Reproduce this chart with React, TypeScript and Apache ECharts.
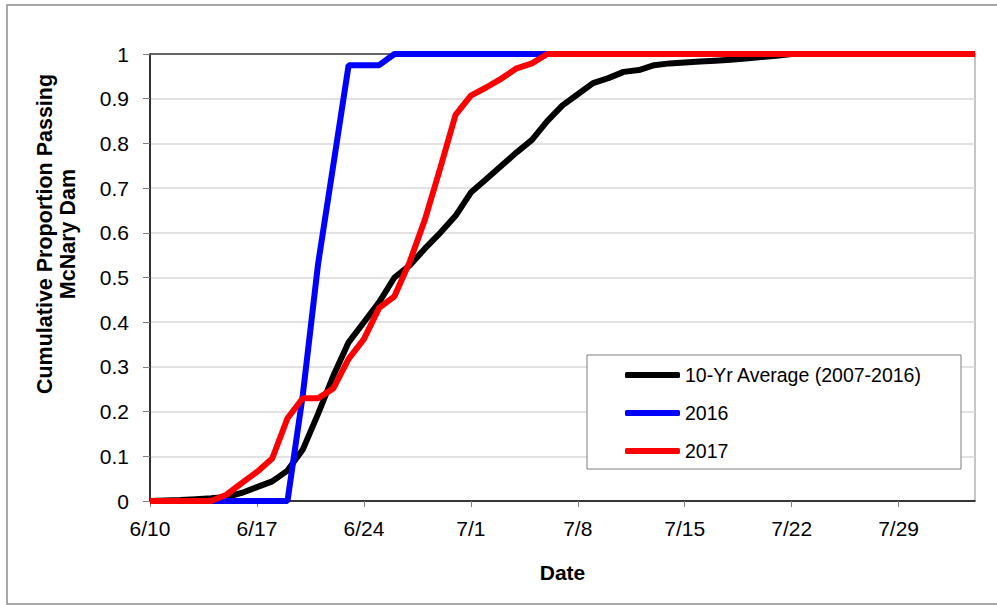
import React, { useEffect, useRef } from "react";
import * as echarts from "echarts";

// Day labels: 6/10 through 8/3 (one per day)
const startMonth = 6;
const startDay = 10;
const dayCount = 55;
const monthLengths: Record<number, number> = { 6: 30, 7: 31, 8: 31 };
function buildDates(): string[] {
  const out: string[] = [];
  let m = startMonth;
  let d = startDay;
  for (let i = 0; i < dayCount; i++) {
    out.push(`${m}/${d}`);
    d++;
    if (d > monthLengths[m]) {
      d = 1;
      m++;
    }
  }
  return out;
}
const dates = buildDates();

const avgLabel = "10-Yr Average (2007-2016)";
const label2016 = "2016";
const label2017 = "2017";
const yTitle = "Cumulative Proportion Passing\nMcNary Dam";
const xTitle = "Date";

const avg10yr = [
  0, 0.001, 0.002, 0.004, 0.006, 0.009, 0.018, 0.031, 0.044, 0.068,
  0.115, 0.195, 0.28, 0.355, 0.4, 0.445, 0.5, 0.527, 0.565, 0.6,
  0.638, 0.69, 0.72, 0.75, 0.78, 0.808, 0.85, 0.885, 0.91, 0.935,
  0.946, 0.96, 0.964, 0.975, 0.979, 0.981, 0.983, 0.985, 0.987, 0.99,
  0.993, 0.996, 1, 1, 1, 1, 1, 1, 1, 1,
  1, 1, 1, 1, 1,
];

const y2016 = [
  0, 0, 0, 0, 0, 0, 0, 0, 0, 0,
  0.237, 0.53, 0.752, 0.975, 0.975, 0.975, 1, 1, 1, 1,
  1, 1, 1, 1, 1, 1, 1, 1, 1, 1,
  1, 1, 1, 1, 1, 1, 1, 1, 1, 1,
  1, 1, 1, 1, 1, 1, 1, 1, 1, 1,
  1, 1, 1, 1, 1,
];

const y2017 = [
  0, 0, 0, 0, 0, 0.014, 0.04, 0.065, 0.095, 0.185,
  0.23, 0.23, 0.252, 0.318, 0.362, 0.432, 0.458, 0.535, 0.63, 0.745,
  0.864, 0.907, 0.925, 0.945, 0.968, 0.979, 1, 1, 1, 1,
  1, 1, 1, 1, 1, 1, 1, 1, 1, 1,
  1, 1, 1, 1, 1, 1, 1, 1, 1, 1,
  1, 1, 1, 1, 1,
];

const FONT = "'Liberation Sans', Arial, sans-serif";

export default function App() {
  const ref = useRef<HTMLDivElement>(null);
  useEffect(() => {
    if (!ref.current) return;
    const chart = echarts.init(ref.current, undefined, { renderer: "svg" });
    const lineSeries = (name: string, data: number[], color: string) => ({
      name,
      type: "line",
      data,
      showSymbol: false,
      symbol: "none",
      color,
      lineStyle: { color, width: 6 },
      z: 2,
    });
    chart.setOption({
      animation: false,
      backgroundColor: "#ffffff",
      textStyle: { fontFamily: FONT },
      graphic: [
        {
          type: "rect",
          shape: { x: 7, y: 5, width: 1000, height: 599 },
          style: { fill: "none", stroke: "#8c8c8c", lineWidth: 1.5 },
          z: -1,
          silent: true,
        },
        {
          type: "rect",
          shape: { x: 587, y: 355, width: 374, height: 114 },
          style: { fill: "#ffffff", stroke: "#7f7f7f", lineWidth: 1 },
          z: 8,
          silent: true,
        },
        {
          type: "text",
          x: 56,
          y: 234,
          rotation: Math.PI / 2,
          silent: true,
          style: {
            text: yTitle,
            fill: "#000",
            fontFamily: FONT,
            fontSize: 21.5,
            fontWeight: "bold",
            lineHeight: 23,
            align: "center",
            verticalAlign: "middle",
          },
        },
      ],
      grid: {
        left: 150,
        top: 54,
        right: 22,
        bottom: 104,
        show: true,
        borderColor: "#8c8c8c",
        borderWidth: 1,
      },
      legend: {
        orient: "vertical",
        left: 625,
        top: 364,
        itemWidth: 55,
        itemHeight: 6,
        itemGap: 16,
        icon: "roundRect",
        padding: 0,
        z: 10,
        textStyle: {
          fontFamily: FONT,
          fontSize: 19.5,
          color: "#000",
          lineHeight: 22,
        },
        data: [avgLabel, label2016, label2017],
      },
      xAxis: [
        {
          type: "category",
          data: dates,
          boundaryGap: false,
          name: xTitle,
          nameLocation: "middle",
          nameGap: 61,
          nameTextStyle: {
            fontFamily: FONT,
            fontSize: 21,
            fontWeight: "bold",
            color: "#000",
          },
          axisLine: { show: true, lineStyle: { color: "#000", width: 1.5 } },
          axisTick: {
            show: true,
            interval: 6,
            length: 6,
            lineStyle: { color: "#808080", width: 1 },
          },
          axisLabel: {
            interval: 6,
            margin: 17,
            fontFamily: FONT,
            fontSize: 21,
            color: "#000",
          },
          splitLine: { show: false },
        },
        {
          type: "category",
          data: dates,
          boundaryGap: false,
          position: "top",
          axisLine: { show: true, lineStyle: { color: "#404040", width: 1.5 } },
          axisTick: { show: false },
          axisLabel: { show: false },
          splitLine: { show: false },
        },
      ],
      yAxis: {
        type: "value",
        min: 0,
        max: 1,
        interval: 0.1,
        axisLine: { show: true, lineStyle: { color: "#000", width: 1.5 } },
        axisTick: {
          show: true,
          length: 7,
          lineStyle: { color: "#808080", width: 1 },
        },
        axisLabel: {
          margin: 21,
          fontFamily: FONT,
          fontSize: 21,
          color: "#000",
        },
        splitLine: { show: true, lineStyle: { color: "#d9d9d9", width: 1.5 } },
      },
      series: [
        lineSeries(avgLabel, avg10yr, "#000000"),
        lineSeries(label2016, y2016, "#0000ff"),
        lineSeries(label2017, y2017, "#ff0000"),
      ],
    });
    return () => chart.dispose();
  }, []);
  return (
    <div
      ref={ref}
      style={{ position: "absolute", left: 0, top: 0, width: 997, height: 605 }}
    />
  );
}
